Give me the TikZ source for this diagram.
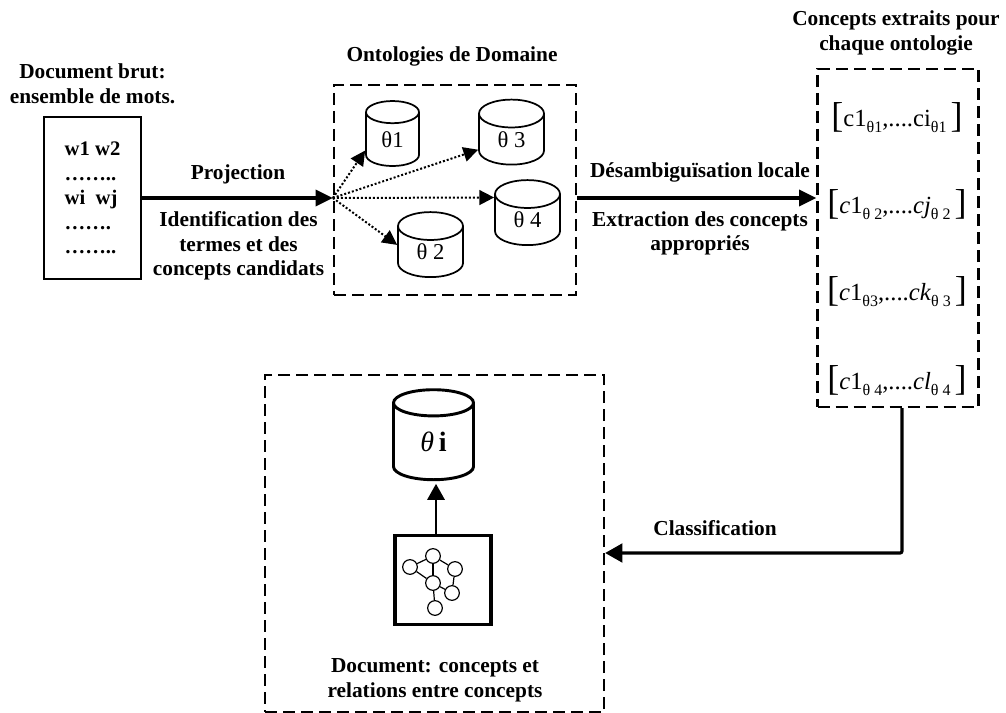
\documentclass[tikz,border=0pt]{standalone}
\usepackage{fontspec}
\setmainfont{Liberation Serif}
\usetikzlibrary{arrows.meta,shapes.geometric}
\def\px{0.75pt}
\newcommand{\csub}[1]{\raisebox{-0.6ex}{\fontsize{12}{14}\selectfont #1}}
\newcommand{\cbrack}[1]{\raisebox{-0.15ex}{\fontsize{27}{28}\selectfont #1}}
\begin{document}
\begin{tikzpicture}[x=\px, y=-\px, >={Stealth[length=13pt,width=12pt,inset=0pt]},
    title/.style = {font=\fontsize{16}{18.4}\selectfont\bfseries, align=center, inner sep=0pt},
    dashbox/.style = {draw, line width=1.7pt, dash pattern=on 9pt off 4.5pt, inner sep=0pt},
    onto/.style = {draw, cylinder, shape border rotate=90, shape aspect=1, line width=1.3pt,
                   inner sep=0pt, font=\fontsize{17}{18}\selectfont},
    fan/.style = {->, line width=1.5pt, dash pattern=on 1.5pt off 1.5pt,
                  >={Stealth[length=11pt,width=11pt,inset=0pt]}},
    flow/.style = {->, line width=2.6pt},
    gnode/.style = {draw, circle, line width=0.9pt, minimum size=11pt, inner sep=0pt},
    gedge/.style = {line width=0.9pt},
    conc/.style = {inner sep=0pt, font=\fontsize{18.5}{20}\selectfont},
    ]
    \useasboundingbox (0,0) rectangle (1006,713);
    % document brut
    \node[title] (tbrut) at (92.5,84) {Document brut:\\ensemble de mots.};
    \node[draw, line width=1.3pt, minimum width=97*\px, minimum height=162*\px, inner sep=0pt,
          align=left, font=\fontsize{15.5}{18.4}\selectfont\bfseries] (brut) at (92.5,198)
          {w1 w2\\……..\\wi\ \ wj\\…….\\……..};
    % ontologies
    \node[title] (tonto) at (452,56) {Ontologies de Domaine};
    \node[dashbox, minimum width=242*\px, minimum height=210*\px] (dom) at (455,190) {};
    \node[onto, minimum width=53*\px, minimum height=65*\px] (o1) at (392.5,139.5) {θ1};
    \node[onto, minimum width=65*\px, minimum height=65*\px] (o3) at (511.5,139.5) {θ 3};
    \node[onto, minimum width=65*\px, minimum height=65*\px] (o4) at (527.5,220) {θ 4};
    \node[onto, minimum width=65*\px, minimum height=65*\px] (o2) at (430.5,252) {θ 2};
    \coordinate (fan) at (dom.west |- brut);
    \draw[fan] (fan) -- (o1.202);
    \draw[fan] (fan) -- (o3.197);
    \draw[fan] (fan) -- (o4.146);
    \draw[fan] (fan) -- (o2.168);
    % concepts extraits
    \node[title] (tconc) at (896,33) {Concepts extraits pour\\chaque ontologie};
    \node[dashbox, minimum width=161*\px, minimum height=338*\px] (conc) at (898,238) {};
    \node[conc] (c1) at (897,118) {\cbrack{[}c1\csub{θ1},....ci\csub{θ1}\,\cbrack{]}};
    \node[conc] (c2) at (897,205) {\cbrack{[}\textit{c}1\csub{θ 2},....\textit{cj}\csub{θ 2}\,\cbrack{]}};
    \node[conc] (c3) at (897,292) {\cbrack{[}\textit{c}1\csub{θ3},....\textit{ck}\csub{θ 3}\,\cbrack{]}};
    \node[conc] (c4) at (897,381) {\cbrack{[}\textit{c}1\csub{θ 4},....\textit{cl}\csub{θ 4}\,\cbrack{]}};
    % document final
    \node[dashbox, minimum width=339*\px, minimum height=337*\px] (res) at (434.5,543.5) {};
    \node[onto, line width=2.2pt, minimum width=80*\px, minimum height=90*\px, font=\fontsize{21}{22}\selectfont\bfseries] (oi) at (433.5,442) {{\normalfont\textit{θ}}\,i};
    \node[draw, line width=2.8pt, minimum width=96*\px, minimum height=89*\px, inner sep=0pt] (graphe) at (443,580) {};
    \node[gnode] (g1) at (410,567) {};
    \node[gnode] (g2) at (433,556) {};
    \node[gnode] (g3) at (455,569) {};
    \node[gnode] (g4) at (433,583) {};
    \node[gnode] (g5) at (452,593) {};
    \node[gnode] (g6) at (435,608) {};
    \foreach \a/\b in {g1/g2,g1/g4,g2/g4,g2/g3,g3/g5,g4/g5,g4/g6}
    {
      \draw[gedge] (\a) -- (\b);
    }
    \node[title] (tres) at (435,680.5) {Document: concepts et\\relations entre concepts};
    % connecteurs
    \draw[flow] (brut.east |- fan) -- (fan);
    \draw[flow] (dom.east |- fan) -- (conc.west |- fan);
    \draw[flow, line width=2.4pt, rounded corners=1.5pt, >={Stealth[length=13pt,width=14pt,inset=0pt]}] (conc.south -| 902,0) |- (res.east |- 0,553);
    \draw[->, line width=1.6pt, shorten >=2pt, >={Stealth[length=12pt,width=13pt,inset=0pt]}] (graphe.north -| 436,0) -- (oi.south -| 436,0);
    % labels
    \node[title] (lproj) at (238,174) {Projection};
    \node[title] (lident) at (238.5,246) {Identification des\\termes et des\\concepts candidats};
    \node[title] (ldes) at (700,172) {Désambiguïsation locale};
    \node[title] (lext) at (700,233.5) {Extraction des concepts\\appropriés};
    \node[title] (lclass) at (715,528) {Classification};
\end{tikzpicture}
\end{document}
